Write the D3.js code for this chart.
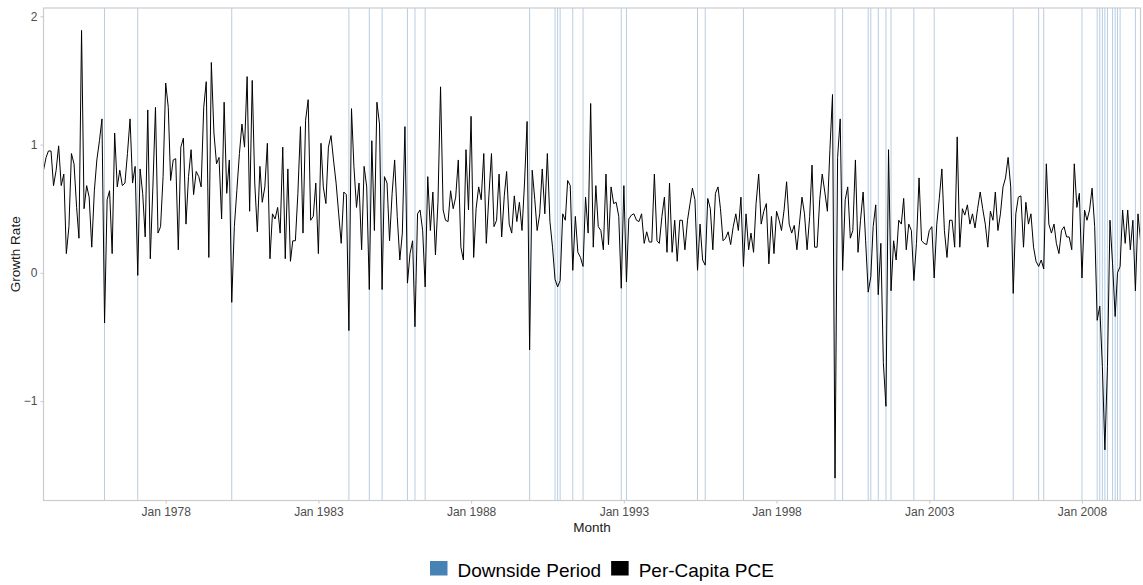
<!DOCTYPE html>
<html>
<head>
<meta charset="utf-8">
<script src="https://cdn.jsdelivr.net/npm/d3@7"></script>
<style>
  body { margin: 0; background: #fff; }
  svg text { font-family: "Liberation Sans", Arial, Helvetica, sans-serif; }
</style>
</head>
<body>
<svg id="chart" width="1143" height="585"></svg>
<script>
// Monthly per-capita PCE growth rate (%), starting January 1974
const firstMonth = "1974-01";
const growthRate = [
  0.80, 0.90, 0.95, 0.95, 0.68, 0.80, 0.99, 0.68, 0.77, 0.15,
  0.36, 0.93, 0.85, 0.51, 0.27, 1.89, 0.50, 0.68, 0.59, 0.20,
  0.64, 0.88, 1.03, 1.20, -0.39, 0.57, 0.64, 0.15, 1.09, 0.67,
  0.80, 0.68, 0.70, 0.93, 1.20, 0.70, 0.83, -0.02, 0.81, 0.62,
  0.28, 1.27, 0.11, 0.67, 1.29, 0.31, 0.36, 0.75, 1.48, 1.29,
  0.72, 0.88, 0.89, 0.18, 0.98, 1.05, 0.38, 0.75, 0.96, 0.61,
  0.79, 0.75, 0.67, 1.29, 1.49, 0.12, 1.64, 1.09, 0.85, 0.90,
  0.42, 1.33, 0.62, 0.88, -0.23, 0.36, 0.64, 0.93, 1.16, 0.98,
  1.53, 0.48, 1.50, 0.70, 0.32, 0.83, 0.55, 0.67, 1.01, 0.11,
  0.46, 0.42, 0.51, 0.31, 0.98, 0.11, 0.81, 0.09, 0.25, 0.25,
  0.62, 1.14, 0.31, 1.19, 1.35, 0.41, 0.44, 0.70, 0.15, 1.01,
  0.67, 0.54, 0.98, 1.07, 0.88, 0.70, 0.46, 0.23, 0.63, 0.61,
  -0.45, 1.28, 0.83, 0.51, 0.70, 0.18, 0.83, 0.67, -0.13, 1.03,
  0.33, 1.33, 1.16, -0.13, 0.75, 0.70, 0.25, 0.62, 0.88, 0.44,
  0.10, 0.31, 1.14, -0.08, 0.15, 0.25, -0.42, 0.46, 0.49, 0.33,
  -0.11, 0.75, 0.33, 0.63, 0.14, 0.55, 1.45, 0.49, 0.41, 0.40,
  0.64, 0.50, 0.59, 0.88, 0.20, 0.10, 0.96, 0.49, 1.22, 0.12,
  0.50, 0.67, 0.57, 0.93, 0.23, 0.60, 0.93, 0.36, 0.41, 0.77,
  0.28, 0.60, 0.79, 0.38, 0.31, 0.60, 0.40, 0.55, 0.33, 0.70,
  1.18, -0.60, 0.80, 0.57, 0.33, 0.46, 0.81, 0.46, 0.93, 0.40,
  0.20, -0.05, -0.11, -0.06, 0.46, 0.41, 0.72, 0.68, 0.02, 0.44,
  0.16, 0.12, 0.05, 0.59, 0.31, 1.32, 0.20, 0.68, 0.36, 0.33,
  0.18, 0.77, 0.22, 0.67, 0.54, 0.55, 0.44, -0.12, 0.68, -0.07,
  0.42, 0.45, 0.46, 0.41, 0.40, 0.46, 0.23, 0.32, 0.24, 0.24,
  0.77, 0.25, 0.23, 0.44, 0.59, 0.16, 0.70, 0.16, 0.41, 0.09,
  0.41, 0.41, 0.18, 0.41, 0.53, 0.66, 0.57, 0.02, 0.38, 0.10,
  0.06, 0.58, 0.50, 0.18, 0.62, 0.67, 0.50, 0.25, 0.27, 0.32,
  0.22, 0.36, 0.46, 0.33, 0.59, 0.05, 0.46, 0.18, 0.31, 0.16,
  0.54, 0.77, 0.38, 0.48, 0.54, 0.07, 0.44, 0.15, 0.48, 0.41,
  0.33, 0.49, 0.71, 0.38, 0.31, 0.37, 0.18, 0.38, 0.59, 0.46,
  0.18, 0.44, 0.84, 0.20, 0.20, 0.57, 0.77, 0.63, 0.48, 0.96,
  1.39, -1.60, 0.90, 1.20, 0.02, 0.57, 0.67, 0.27, 0.33, 0.88,
  0.16, 0.41, 0.63, 0.25, -0.15, -0.03, 0.36, 0.53, -0.17, 0.23,
  -0.70, -1.04, 0.96, -0.14, 0.25, 0.10, 0.41, 0.38, 0.58, 0.18,
  0.38, 0.33, -0.06, 0.23, 0.74, 0.25, 0.23, 0.22, 0.33, 0.36,
  -0.04, 0.38, 0.58, 0.81, 0.33, 0.12, 0.41, 0.41, 0.20, 1.06,
  0.20, 0.50, 0.45, 0.53, 0.38, 0.46, 0.35, 0.50, 0.63, 0.50,
  0.38, 0.20, 0.48, 0.41, 0.63, 0.33, 0.46, 0.67, 0.74, 0.90,
  0.67, -0.16, 0.46, 0.59, 0.60, 0.20, 0.55, 0.38, 0.46, 0.20,
  0.09, 0.05, 0.10, 0.03, 0.85, 0.38, 0.31, 0.38, 0.23, 0.15,
  0.33, 0.36, 0.28, 0.28, 0.18, 0.85, 0.51, 0.62, -0.04, 0.49,
  0.41, 0.49, 0.66, 0.36, -0.37, -0.26, -0.73, -1.38, -0.73, 0.41,
  0.07, -0.34, 0.00, 0.05, 0.49, 0.23, 0.49, 0.18, 0.41, -0.14,
  0.46, 0.25
];

// Months flagged as downside periods
const downsideMonths = [
  "1976-01", "1977-02", "1980-03", "1984-01", "1984-09", "1985-02",
  "1985-12", "1986-03", "1986-07", "1989-12", "1990-10", "1990-11",
  "1990-12", "1991-05", "1991-09", "1992-12", "1993-02", "1995-06",
  "1995-09", "1996-12", "1999-12", "2000-03", "2001-01", "2001-02",
  "2001-05", "2001-08", "2001-10", "2002-07", "2003-03", "2005-10",
  "2006-08", "2006-10", "2008-01", "2008-07", "2008-08", "2008-09",
  "2008-10", "2008-11", "2009-01", "2009-02", "2009-03", "2009-04",
  "2009-10"
];

const yTickValues = [-1, 0, 1, 2];
const xTickYears = [1978, 1983, 1988, 1993, 1998, 2003, 2008];
const legendItems = [
  { label: "Downside Period", color: "#4682B4" },
  { label: "Per-Capita PCE", color: "#000000" }
];

const parseMonth = d3.timeParse("%Y-%m");
const start = parseMonth(firstMonth);
const series = growthRate.map((v, i) => ({ date: d3.timeMonth.offset(start, i), value: v }));
const downsideDates = downsideMonths.map(parseMonth);

const svg = d3.select("#chart");
const panel = { left: 43.5, right: 1140.5, top: 8, bottom: 500.5 };

const x = d3.scaleTime()
  .domain(d3.extent(series, d => d.date))
  .range([panel.left, panel.right]);

const yMin = d3.min(growthRate), yMax = d3.max(growthRate);
const pad = (yMax - yMin) * 0.05;
const y = d3.scaleLinear()
  .domain([yMin - pad, yMax + pad])
  .range([panel.bottom, panel.top]);

// panel background
svg.append("rect")
  .attr("x", panel.left).attr("y", panel.top)
  .attr("width", panel.right - panel.left)
  .attr("height", panel.bottom - panel.top)
  .attr("fill", "#ffffff");

// downside period markers
svg.append("g")
  .selectAll("line")
  .data(downsideDates)
  .join("line")
  .attr("x1", d => x(d)).attr("x2", d => x(d))
  .attr("y1", panel.top).attr("y2", panel.bottom)
  .attr("stroke", "#b7cde2")
  .attr("stroke-width", 1);

// growth rate line
const line = d3.line()
  .x(d => x(d.date))
  .y(d => y(d.value));

svg.append("path")
  .datum(series)
  .attr("fill", "none")
  .attr("stroke", "#000")
  .attr("stroke-width", 1)
  .attr("stroke-linejoin", "round")
  .attr("d", line);

// panel border
svg.append("rect")
  .attr("x", panel.left).attr("y", panel.top)
  .attr("width", panel.right - panel.left)
  .attr("height", panel.bottom - panel.top)
  .attr("fill", "none")
  .attr("stroke", "#cccccc")
  .attr("stroke-width", 1.2);

// axes
const xAxis = d3.axisBottom(x)
  .tickValues(xTickYears.map(yr => new Date(yr, 0, 1)))
  .tickFormat(d3.timeFormat("%b %Y"))
  .tickSize(3).tickPadding(4);
const yAxis = d3.axisLeft(y)
  .tickValues(yTickValues)
  .tickFormat(d3.format("d"))
  .tickSize(3).tickPadding(3);

const gx = svg.append("g").attr("transform", `translate(0,${panel.bottom})`).call(xAxis);
const gy = svg.append("g").attr("transform", `translate(${panel.left},0)`).call(yAxis);
[gx, gy].forEach(g => {
  g.select(".domain").remove();
  g.selectAll(".tick line").attr("stroke", "#cccccc").attr("stroke-width", 1.1);
  g.selectAll(".tick text").attr("fill", "#4d4d4d").style("font-size", "12px");
});

// axis titles
svg.append("text")
  .attr("x", (panel.left + panel.right) / 2).attr("y", 532)
  .attr("text-anchor", "middle")
  .style("font-size", "13.5px").attr("fill", "#1a1a1a")
  .text("Month");
svg.append("text")
  .attr("transform", `translate(20,${(panel.top + panel.bottom) / 2}) rotate(-90)`)
  .attr("text-anchor", "middle")
  .style("font-size", "13.5px").attr("fill", "#1a1a1a")
  .text("Growth Rate");

// legend
const legend = svg.append("g").attr("transform", "translate(430,561)");
let offset = 0;
legendItems.forEach(item => {
  const g = legend.append("g").attr("transform", `translate(${offset},0)`);
  g.append("rect").attr("width", 17.5).attr("height", 14.5).attr("fill", item.color);
  const t = g.append("text")
    .attr("x", 27.5).attr("y", 15.5)
    .style("font-size", "19px").attr("fill", "#000")
    .text(item.label);
  offset += 27.5 + t.node().getComputedTextLength() + 10;
});
</script>
</body>
</html>
